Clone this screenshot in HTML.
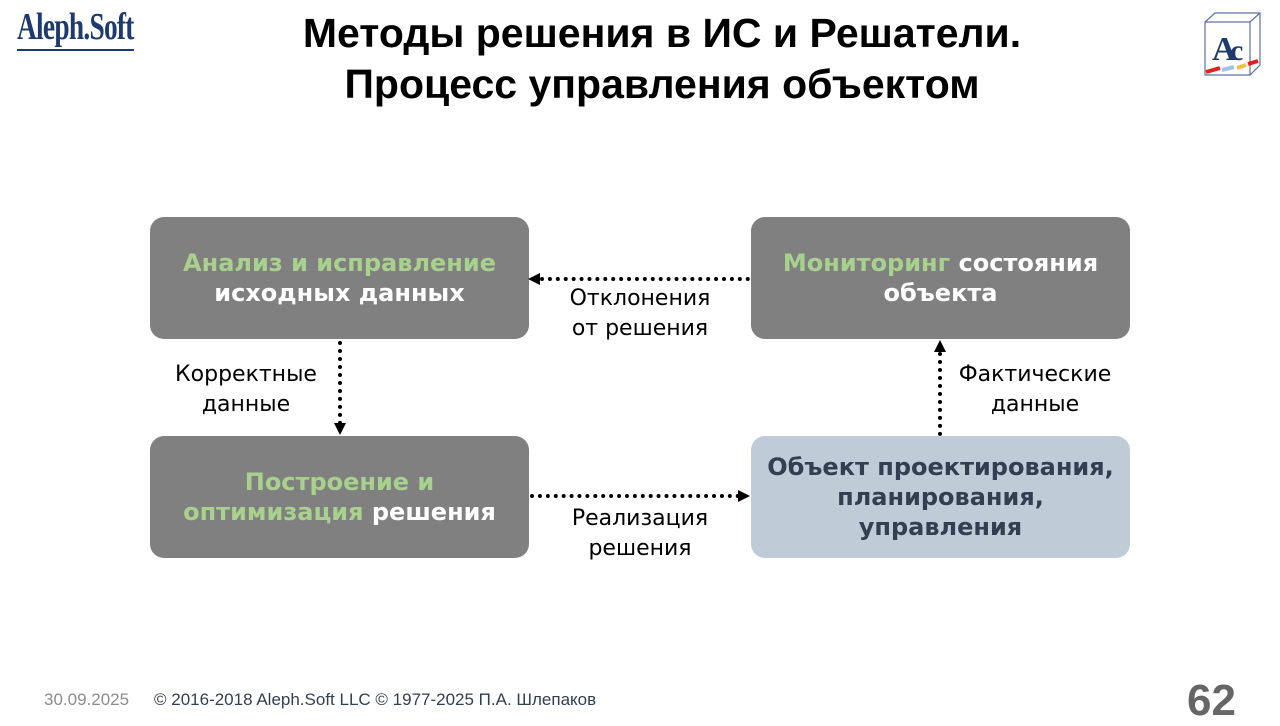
<!DOCTYPE html>
<html><head><meta charset="utf-8"><style>
body{margin:0;width:1280px;height:720px;background:#fff;position:relative;overflow:hidden;font-family:"Liberation Sans","DejaVu Sans",sans-serif}
.t{position:absolute;left:0;width:1280px;text-align:center;font-weight:bold;font-size:41px;color:#000;line-height:46px;margin-left:22px}
.box{position:absolute;width:379px;height:122px;border-radius:14px;background:#808080;display:flex;align-items:center;justify-content:center;text-align:center;font-family:"DejaVu Sans",sans-serif;font-weight:bold;font-size:24px;line-height:30px;color:#fff}
.g{color:#a9d18e}
.lbl{position:absolute;text-align:center;font-family:"DejaVu Sans",sans-serif;font-size:22px;line-height:30px;color:#000}
.dh{position:absolute;height:0;border-top:4px dotted #000}
.dv{position:absolute;width:0;border-left:4px dotted #000}
</style></head><body>
<div style="position:absolute;left:17px;top:5px;font-family:'Liberation Serif',serif;font-weight:bold;font-size:38px;color:#1f3a6e;letter-spacing:-1px;transform:scaleX(0.72);transform-origin:left">Aleph.Soft</div>
<div style="position:absolute;left:17px;top:49px;width:117px;height:2px;background:#1f3a6e"></div>
<svg style="position:absolute;left:1200px;top:10px" width="64" height="70">
<path d="M5 12 L15 3 L60 3 L60 55 L50 65 L5 65 Z M5 12 L50 12 L50 65 M50 12 L60 3" fill="none" stroke="#6070a0" stroke-width="1.2"/>
<text x="12" y="50" font-family="Liberation Serif,serif" font-size="34" font-weight="bold" fill="#1f3a6e">A</text>
<text x="30" y="50" font-family="Liberation Serif,serif" font-size="30" font-weight="bold" fill="#1f3a6e">c</text>
<line x1="6" y1="62" x2="20" y2="58" stroke="#e02020" stroke-width="4"/>
<line x1="22" y1="60" x2="34" y2="57" stroke="#a0c4e8" stroke-width="4"/>
<line x1="37" y1="58" x2="46" y2="55" stroke="#f0c040" stroke-width="4"/>
<line x1="48" y1="54" x2="58" y2="51" stroke="#e02020" stroke-width="4"/>
</svg>
<div class="t" style="top:10px">Методы решения в ИС и Решатели.</div>
<div class="t" style="top:61px">Процесс управления объектом</div>

<div class="box" style="left:150px;top:217px"><div><span class="g">Анализ и исправление</span><br>исходных данных</div></div>
<div class="box" style="left:751px;top:217px"><div><span class="g">Мониторинг</span> состояния<br>объекта</div></div>
<div class="box" style="left:150px;top:436px"><div><span class="g">Построение и<br>оптимизация</span> решения</div></div>
<div class="box" style="left:751px;top:436px;background:#c0cbd8;color:#333f50"><div>Объект проектирования,<br>планирования,<br>управления</div></div>

<div class="dh" style="left:540px;top:277px;width:210px"></div>
<svg style="position:absolute;left:528px;top:272px" width="14" height="14"><path d="M0 7 L12 1 L12 13Z"/></svg>
<div class="lbl" style="left:540px;top:284px;width:200px">Отклонения<br>от решения</div>

<div class="dv" style="left:338px;top:341px;height:84px"></div>
<svg style="position:absolute;left:333px;top:423px" width="14" height="14"><path d="M1 0 L13 0 L7 12Z"/></svg>
<div class="lbl" style="left:146px;top:360px;width:200px">Корректные<br>данные</div>

<div class="dh" style="left:530px;top:494px;width:210px"></div>
<svg style="position:absolute;left:738px;top:489px" width="14" height="14"><path d="M0 1 L12 7 L0 13Z"/></svg>
<div class="lbl" style="left:540px;top:504px;width:200px">Реализация<br>решения</div>

<div class="dv" style="left:938px;top:352px;height:84px"></div>
<svg style="position:absolute;left:933px;top:340px" width="14" height="14"><path d="M7 0 L13 12 L1 12Z"/></svg>
<div class="lbl" style="left:935px;top:360px;width:200px">Фактические<br>данные</div>

<div style="position:absolute;left:44px;top:690px;font-size:17px;color:#8c8c8c">30.09.2025</div>
<div style="position:absolute;left:154px;top:690px;font-size:17px;color:#333f50">© 2016-2018 Aleph.Soft LLC © 1977-2025 П.А. Шлепаков</div>
<div style="position:absolute;left:1187px;top:676px;font-size:44px;font-weight:bold;color:#666">62</div>
</body></html>
